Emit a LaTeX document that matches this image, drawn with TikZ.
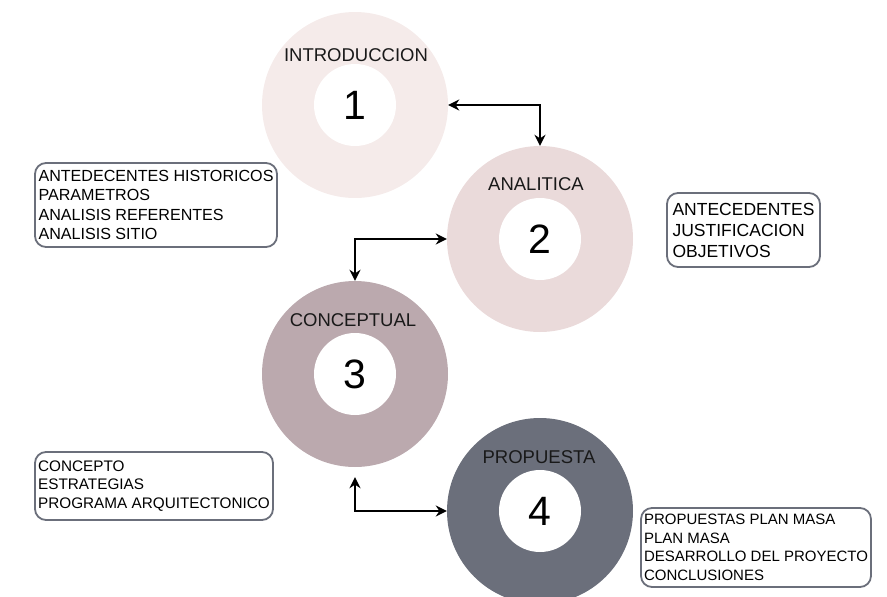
\documentclass[tikz,border=0pt]{standalone}
\usepackage{fontspec}
\setmainfont{Liberation Sans}
\usetikzlibrary{arrows.meta}

\definecolor{ringone}{HTML}{F5EBEA}
\definecolor{ringtwo}{HTML}{EADADA}
\definecolor{ringthree}{HTML}{BBA9AE}
\definecolor{ringfour}{HTML}{6B6F7B}
\definecolor{boxline}{HTML}{6B6F7B}

\begin{document}
\begin{tikzpicture}[x=1pt,y=-1pt,
    ring/.style={circle,minimum size=186pt,inner sep=0pt},
    hole/.style={circle,fill=white,minimum size=82pt,inner sep=0pt,font=\fontsize{41}{41}\selectfont},
    phase/.style={font=\fontsize{18.5}{20}\selectfont,text=black!90},
    infobox/.style={draw=boxline,line width=1.8pt,rounded corners=11pt,align=left,inner xsep=3pt},
    link/.style={line width=2.2pt,{Stealth[length=11pt,width=11pt]}-{Stealth[length=11pt,width=11pt]}}]

    \useasboundingbox (0,0) rectangle (887,597);

    % stages
    \node[ring,fill=ringone] (c1) at (355,105) {};
    \node[ring,fill=ringtwo] (c2) at (540,239) {};
    \node[ring,fill=ringthree] (c3) at (355,374) {};
    \node[ring,fill=ringfour] (c4) at (540,511) {};

    \node[hole] (n1) at (355,105) {1};
    \node[hole] (n2) at (540,239) {2};
    \node[hole] (n3) at (355,374) {3};
    \node[hole] (n4) at (540,511) {4};

    \node[phase] (t1) at (356,55) {INTRODUCCION};
    \node[phase] (t2) at (536,184) {ANALITICA};
    \node[phase] (t3) at (353,320) {CONCEPTUAL};
    \node[phase] (t4) at (539,457) {PROPUESTA};

    % contents
    \node[infobox,minimum width=242pt,minimum height=84pt,font=\fontsize{16.1}{19.5}\selectfont] (b1) at (156,205)
        {ANTEDECENTES HISTORICOS\\PARAMETROS\\ANALISIS REFERENTES\\ANALISIS SITIO};
    \node[infobox,minimum width=153pt,minimum height=74pt,font=\fontsize{17.5}{21}\selectfont] (b2) at (743.5,230)
        {ANTECEDENTES\\JUSTIFICACION\\OBJETIVOS};
    \node[infobox,minimum width=238pt,minimum height=68pt,font=\fontsize{15.3}{18.5}\selectfont] (b3) at (154,486)
        {CONCEPTO\\ESTRATEGIAS\\PROGRAMA ARQUITECTONICO};
    \node[infobox,minimum width=228pt,minimum height=79pt,font=\fontsize{15}{18.5}\selectfont] (b4) at (756,547.5)
        {PROPUESTAS PLAN MASA\\PLAN MASA\\DESARROLLO DEL PROYECTO\\CONCLUSIONES};

    % links
    \draw[link] (c1.east) -| (c2.north);
    \draw[link] (c2.west) -| (c3.north);
    \draw[link,shorten <=10pt] (c3.south) |- (c4.west);
\end{tikzpicture}
\end{document}
